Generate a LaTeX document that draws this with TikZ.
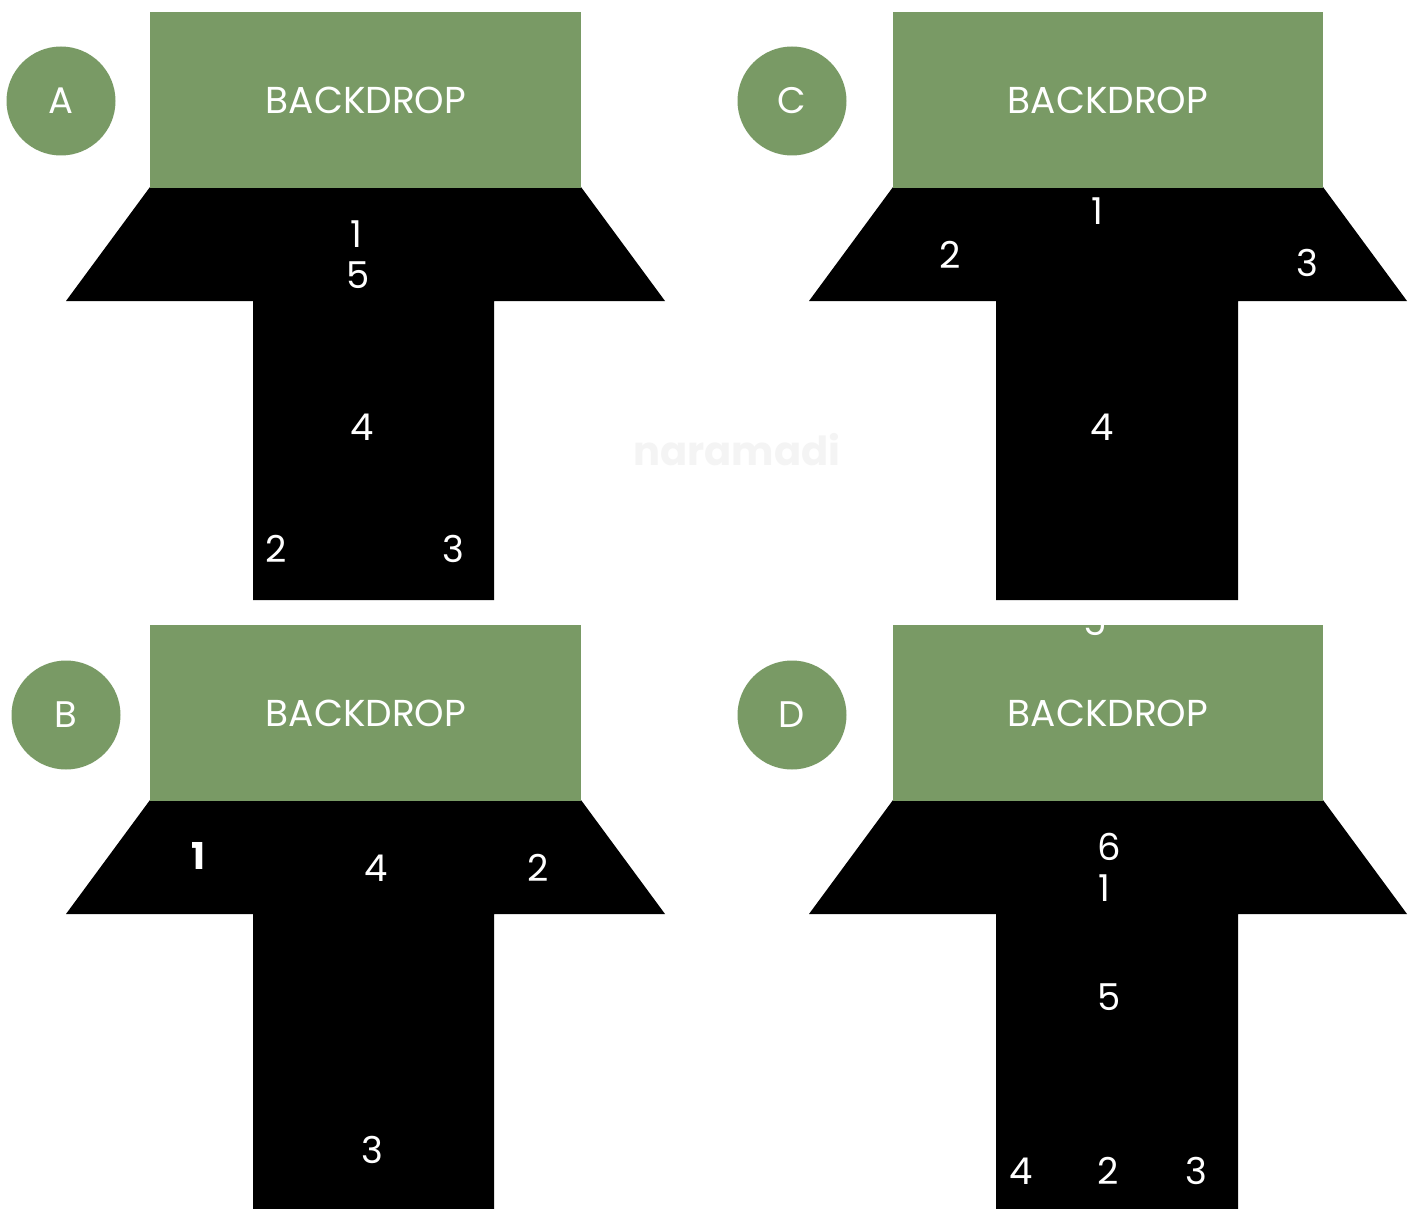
\documentclass[tikz,border=0pt]{standalone}
\usepackage{fontspec}
\setmainfont{Poppins}
\definecolor{sage}{RGB}{121,154,101}
\definecolor{wmark}{RGB}{244,244,244}
\begin{document}
\begin{tikzpicture}[x=1pt,y=-1pt,
  backdrop/.style={fill=sage,draw=none},
  stage/.style={fill=black,draw=none},
  badge/.style={circle,fill=sage,minimum size=109pt,inner sep=0pt,text=white,font=\fontsize{37}{37}\selectfont},
  lbl/.style={text=white,inner sep=0pt,font=\fontsize{37.5}{37.5}\selectfont},
  num/.style={text=white,inner sep=0pt,font=\fontsize{37}{37}\selectfont}]
\useasboundingbox (0,0) rectangle (1416,1209);
\fill[white] (0,0) rectangle (1416,1209);
% watermark
\node[text=wmark,font=\fontsize{40}{40}\selectfont\bfseries] (wm) at (737,450) {naramadi};
% ---------- Panel A ----------
\fill[stage] (150,187) -- (581,187) -- (665,301) -- (494,301) -- (494,600) -- (253,600) -- (253,301) -- (66,301) -- cycle;
\fill[backdrop] (150,12) rectangle (581,188);
\node[lbl] (bdA) at (366,100) {BACKDROP};
\node[badge] (cA) at (61,101) {A};
\node[num] (A1) at (356,234) {1};
\node[num] (A5) at (358,275) {5};
\node[num] (A4) at (362,427) {4};
\node[num] (A2) at (276,549) {2};
\node[num] (A3) at (453,549) {3};
% ---------- Panel C ----------
\fill[stage] (893,187) -- (1323,187) -- (1407,301) -- (1238,301) -- (1238,600) -- (996,600) -- (996,301) -- (809,301) -- cycle;
\fill[backdrop] (893,12) rectangle (1323,188);
\node[lbl] (bdC) at (1108,100) {BACKDROP};
\node[badge] (cC) at (792,101) {C};
\node[num] (C1) at (1097,211) {1};
\node[num] (C2) at (950,255) {2};
\node[num] (C3) at (1307,263) {3};
\node[num] (C4) at (1102,427) {4};
% ---------- Panel B ----------
\fill[stage] (150,800) -- (581,800) -- (665,914) -- (494,914) -- (494,1209) -- (253,1209) -- (253,914) -- (66,914) -- cycle;
\fill[backdrop] (150,625) rectangle (581,801);
\node[lbl] (bdB) at (366,713) {BACKDROP};
\node[badge] (cB) at (66,715) {B};
\node[num,font=\fontsize{37}{37}\selectfont\bfseries] (B1) at (198,856) {1};
\node[num] (B4) at (376,868) {4};
\node[num] (B2) at (538,868) {2};
\node[num] (B3) at (372,1150) {3};
% ---------- Panel D ----------
\fill[stage] (893,800) -- (1323,800) -- (1407,914) -- (1238,914) -- (1238,1209) -- (996,1209) -- (996,914) -- (809,914) -- cycle;
\fill[backdrop] (893,625) rectangle (1323,801);
\node[num] (D5top) at (1095,622) {5};
\node[lbl] (bdD) at (1108,713) {BACKDROP};
\node[badge] (cD) at (792,715) {D};
\node[num] (D6) at (1109,847) {6};
\node[num] (D1) at (1104,888) {1};
\node[num] (D5) at (1109,997) {5};
\node[num] (D4) at (1021,1171) {4};
\node[num] (D2) at (1108,1171) {2};
\node[num] (D3) at (1196,1171) {3};
\end{tikzpicture}
\end{document}
